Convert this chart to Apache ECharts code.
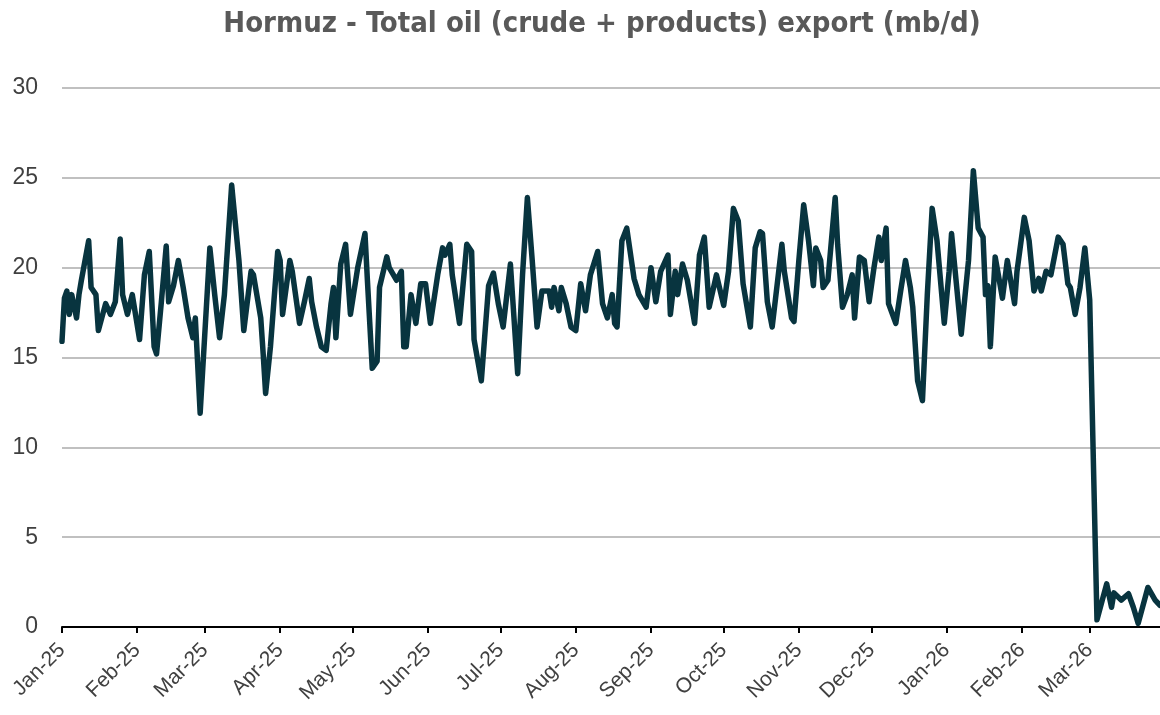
<!DOCTYPE html>
<html>
<head>
<meta charset="utf-8">
<title>Hormuz - Total oil export</title>
<script src="https://cdn.jsdelivr.net/npm/echarts@6/dist/echarts.min.js"></script>
<style>
  html, body { margin: 0; padding: 0; background: #ffffff; }
  #chart { width: 1160px; height: 715px; }
</style>
</head>
<body>
<div id="chart"></div>
<script>
  // x = days counted from 1 Jan 2025, y = mb/d
  var days = [
    0, 1, 2, 3, 4, 6, 7, 8, 11, 12, 14, 15, 18, 20, 22, 24, 25, 27, 29, 32,
    34, 36, 38, 39, 41, 43, 44, 46, 48, 50, 52, 54, 55, 57, 61, 63, 65, 67, 70, 73,
    75, 78, 79, 82, 83, 84, 86, 89, 90, 91, 94, 95, 98, 100, 102, 103, 105, 107, 109, 111,
    112, 113, 115, 117, 119, 122, 125, 126, 128, 130, 131, 134, 135, 138, 140, 141, 142, 144, 146, 148,
    150, 152, 155, 157, 158, 160, 161, 164, 167, 169, 170, 173, 176, 178, 180, 182, 185, 188, 190, 192,
    194, 196, 198, 201, 202, 203, 205, 206, 208, 210, 212, 214, 216, 218, 221, 223, 225, 227, 228, 229,
    231, 233, 236, 238, 241, 243, 245, 247, 250, 251, 253, 254, 256, 258, 261, 263, 265, 267, 270, 273,
    275, 277, 279, 281, 284, 286, 288, 289, 291, 293, 297, 298, 301, 302, 304, 306, 308, 310, 311, 313,
    314, 316, 319, 320, 322, 324, 326, 327, 329, 331, 333, 335, 337, 338, 340, 341, 344, 346, 348, 350,
    351, 353, 355, 357, 359, 361, 364, 366, 367, 371, 374, 376, 378, 380, 381, 382, 383, 385, 388, 390,
    393, 394, 397, 399, 401, 403, 404, 406, 408, 411, 413, 415, 416, 418, 420, 422, 424, 427, 431, 433,
    434, 437, 440, 442, 444, 448, 451, 453
  ];
  var exportVals = [
    15.9, 18.3, 18.7, 17.4, 18.5, 17.2, 18.5, 19.3, 21.5, 18.9, 18.5, 16.5, 18.0, 17.4, 18.1, 21.6, 18.5, 17.4, 18.5, 16.0,
    19.6, 20.9, 15.6, 15.2, 18.1, 21.2, 18.1, 19.0, 20.4, 18.9, 17.2, 16.1, 17.2, 11.9, 21.1, 18.5, 16.1, 18.5, 24.6, 20.4,
    16.5, 19.8, 19.6, 17.2, 15.2, 13.0, 15.6, 20.9, 20.4, 17.4, 20.4, 19.8, 16.9, 18.1, 19.4, 18.1, 16.7, 15.6, 15.4, 18.0,
    18.9, 16.1, 20.2, 21.3, 17.4, 20.0, 21.9, 19.3, 14.4, 14.8, 18.9, 20.6, 20.0, 19.3, 19.8, 15.6, 15.6, 18.5, 16.9, 19.1,
    19.1, 16.9, 19.6, 21.1, 20.7, 21.3, 19.6, 16.9, 21.3, 20.9, 16.0, 13.7, 19.0, 19.7, 18.0, 16.7, 20.2, 14.1, 19.6, 23.9,
    20.4, 16.7, 18.7, 18.7, 17.8, 18.9, 17.6, 18.9, 18.0, 16.7, 16.5, 19.1, 17.6, 19.6, 20.9, 18.0, 17.2, 18.5, 16.9, 16.7,
    21.5, 22.2, 19.4, 18.5, 17.8, 20.0, 18.1, 19.8, 20.7, 17.4, 19.8, 18.5, 20.2, 19.3, 16.9, 20.7, 21.7, 17.8, 19.6, 17.9,
    19.8, 23.3, 22.6, 19.1, 16.7, 21.1, 22.0, 21.9, 18.1, 16.7, 21.3, 19.8, 17.2, 17.0, 20.4, 23.5, 21.5, 19.0, 21.1, 20.4,
    18.9, 19.3, 23.9, 21.3, 17.8, 18.5, 19.6, 17.2, 20.6, 20.4, 18.1, 20.0, 21.7, 20.4, 22.2, 18.0, 16.9, 18.7, 20.4, 18.9,
    17.8, 13.7, 12.6, 18.5, 23.3, 21.5, 16.9, 19.8, 21.9, 16.3, 20.4, 25.4, 22.2, 21.7, 18.5, 19.0, 15.6, 20.6, 18.3, 20.4,
    18.0, 19.8, 22.8, 21.5, 18.7, 19.4, 18.7, 19.8, 19.6, 21.7, 21.3, 19.1, 18.9, 17.4, 18.9, 21.1, 18.2, 0.4, 2.4, 1.1,
    1.9, 1.5, 1.85, 1.1, 0.2, 2.2, 1.5, 1.2
  ];
  // first day of each month, as day offsets
  var monthStarts = [0, 31, 59, 90, 120, 151, 181, 212, 243, 273, 304, 334, 365, 396, 424];
  var monthLabels = ['Jan-25', 'Feb-25', 'Mar-25', 'Apr-25', 'May-25', 'Jun-25', 'Jul-25', 'Aug-25',
                     'Sep-25', 'Oct-25', 'Nov-25', 'Dec-25', 'Jan-26', 'Feb-26', 'Mar-26'];

  var chart = echarts.init(document.getElementById('chart'));

  var points = days.map(function (d, i) { return [d, exportVals[i]]; });

  var option = {
    animation: false,
    backgroundColor: '#ffffff',
    title: {
      text: 'Hormuz - Total oil (crude + products) export (mb/d)',
      left: 597,
      top: 5,
      textAlign: 'center',
      textStyle: {
        fontFamily: '"DejaVu Sans Condensed", "Liberation Sans Narrow", Arial, sans-serif',
        fontSize: 29,
        fontWeight: 'bold',
        color: '#595959'
      }
    },
    grid: { left: 62, right: 0, top: 88, bottom: 88, containLabel: false },
    xAxis: {
      type: 'value',
      min: 0,
      max: 453,
      axisLine: { show: true, lineStyle: { color: '#000000', width: 2 } },
      axisTick: {
        show: true,
        customValues: monthStarts,
        length: 6,
        lineStyle: { color: '#000000', width: 2 }
      },
      axisLabel: {
        customValues: monthStarts,
        rotate: 45,
        margin: 20,
        fontFamily: '"Liberation Sans", Arial, sans-serif',
        fontSize: 21,
        color: '#404040',
        formatter: function (v) {
          var k = monthStarts.indexOf(v);
          return k >= 0 ? monthLabels[k] : '';
        }
      },
      splitLine: { show: false }
    },
    yAxis: {
      type: 'value',
      min: 0,
      max: 30,
      interval: 5,
      axisLine: { show: false },
      axisTick: { show: false },
      axisLabel: {
        margin: 24,
        fontFamily: '"Liberation Sans", Arial, sans-serif',
        fontSize: 23,
        color: '#404040'
      },
      splitLine: { lineStyle: { color: '#c0c0c0', width: 2 } }
    },
    series: [{
      type: 'line',
      data: points,
      showSymbol: false,
      symbol: 'none',
      lineStyle: { color: '#08343f', width: 5.5, join: 'round', cap: 'round' },
      z: 3
    }]
  };

  chart.setOption(option);
</script>
</body>
</html>
